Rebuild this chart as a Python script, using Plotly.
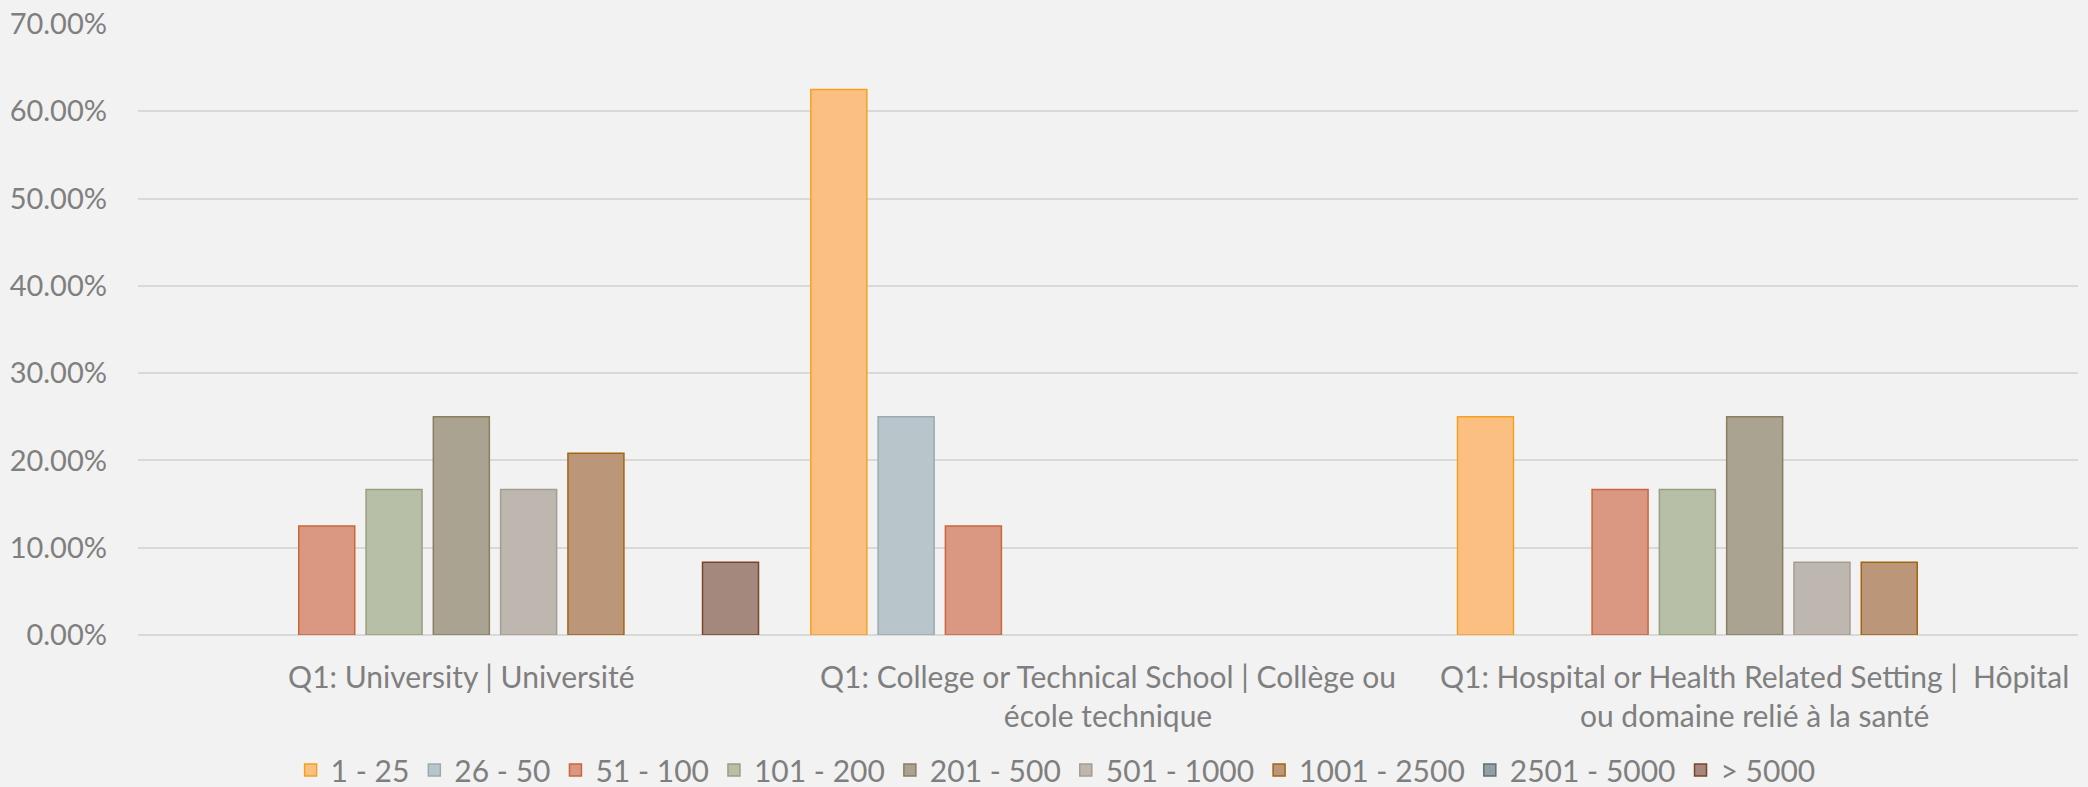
import plotly.graph_objects as go

categories = ["University", "College", "Hospital"]
tick_labels = [
    "Q1: University | Université",
    "Q1: College or Technical School | Collège ou<br>école technique",
    "Q1: Hospital or Health Related Setting |\u00a0\u00a0Hôpital<br>ou domaine relié à la santé",
]
series_names = ["1 - 25", "26 - 50", "51 - 100", "101 - 200", "201 - 500",
                "501 - 1000", "1001 - 2500", "2501 - 5000", "> 5000"]

s_1_25 = [None, 0.625, 0.25]
s_26_50 = [None, 0.25, None]
s_51_100 = [0.125, 0.125, 0.1667]
s_101_200 = [0.1667, None, 0.1667]
s_201_500 = [0.25, None, 0.25]
s_501_1000 = [0.1667, None, 0.0833]
s_1001_2500 = [0.2083, None, 0.0833]
s_2501_5000 = [None, None, None]
s_gt_5000 = [0.0833, None, None]

series_values = [s_1_25, s_26_50, s_51_100, s_101_200, s_201_500,
                 s_501_1000, s_1001_2500, s_2501_5000, s_gt_5000]

fills = ["#FCBF82", "#B8C6CB", "#DA9882", "#B8BFA7", "#ABA391",
         "#BDB7AF", "#BB9679", "#939FA2", "#A4877D"]
borders = ["#F4A11F", "#9AAAB0", "#C9663A", "#9A9F80", "#8B7D5F",
           "#A59D92", "#A3650F", "#5E7277", "#7B4526"]

FONT = "Lato, 'Open Sans', sans-serif"
GRAY = "#7F7F7F"

fig = go.Figure()
for name, vals, fc, bc in zip(series_names, series_values, fills, borders):
    fig.add_trace(go.Bar(
        name=name, x=categories, y=vals,
        marker=dict(color=fc, line=dict(color=bc, width=1.5)),
    ))

fig.update_layout(
    width=2088, height=787,
    paper_bgcolor="#F2F2F2", plot_bgcolor="#F2F2F2",
    margin=dict(l=138, r=10, t=24, b=152, autoexpand=False),
    barmode="group", bargap=0.0634, bargroupgap=0.168,
    font=dict(family=FONT, color=GRAY, size=28),
    showlegend=True,
    legend=dict(orientation="h", x=0.473, xanchor="center", y=-0.221, yanchor="middle",
                font=dict(size=30, color=GRAY), bgcolor="rgba(0,0,0,0)",
                traceorder="normal", itemwidth=30),
)
fig.update_xaxes(
    tickvals=categories, ticktext=tick_labels,
    showgrid=False, showline=False, zeroline=False, automargin=False,
    tickfont=dict(size=30, color=GRAY), ticklabelstandoff=22,
)
fig.update_yaxes(
    range=[0, 0.7], dtick=0.1, tickformat=".2%", automargin=False,
    showgrid=True, gridcolor="#D9D9D9", gridwidth=2,
    zeroline=True, zerolinecolor="#D9D9D9", zerolinewidth=2,
    showline=False, tickfont=dict(size=29, color=GRAY), ticklabelstandoff=30,
)

fig.write_html(
    "out.html",
    config={"displayModeBar": False},
    post_script="document.body.style.margin='0';document.body.style.padding='0';"
                "document.body.style.background='#F2F2F2';",
)
